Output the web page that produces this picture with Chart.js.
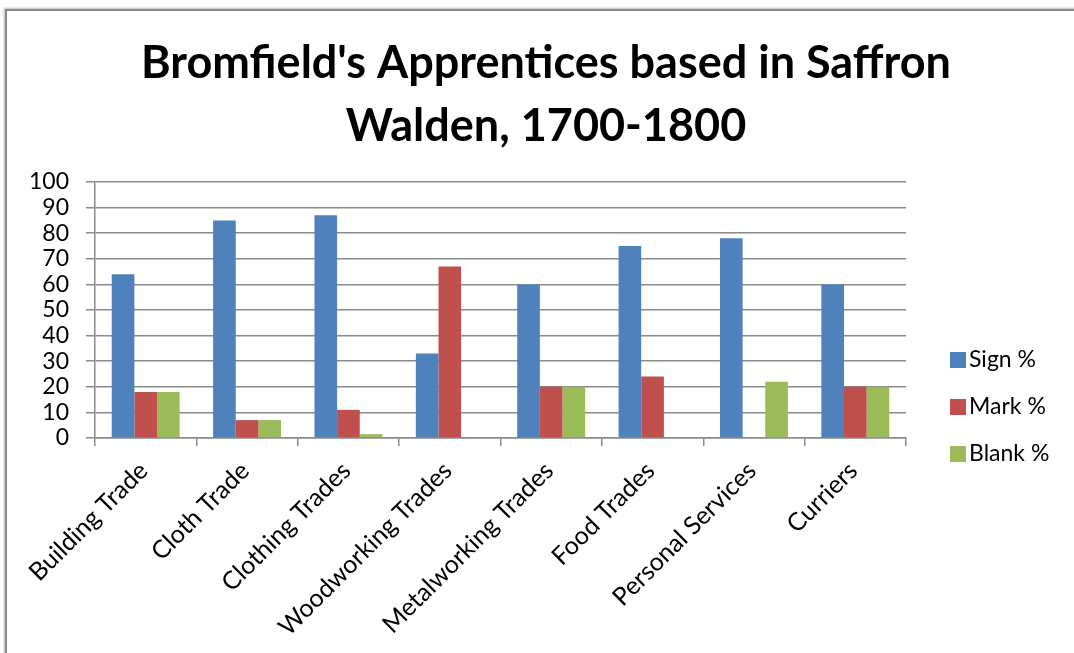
<!DOCTYPE html>
<html>
<head>
<meta charset="utf-8">
<script src="https://cdn.jsdelivr.net/npm/chart.js@4.4.1/dist/chart.umd.min.js"></script>
<style>
  html, body { margin: 0; padding: 0; background: #fff; overflow: hidden; }
  #frame {
    position: absolute; left: 5px; top: 9px; width: 1200px; height: 800px;
    border: 2px solid #8a8a8a; box-shadow: -1px -1px 2px #bbb;
  }
  #wrap { position: absolute; left: 0; top: 0; width: 1074px; height: 653px; }
</style>
</head>
<body>
<div id="frame"></div>
<div id="wrap"><canvas id="chart" width="1074" height="653"></canvas></div>
<script>
// Bromfield's apprentices - share who could sign / made a mark / left it blank
const categories = ['Building Trade', 'Cloth Trade', 'Clothing Trades', 'Woodworking Trades',
                    'Metalworking Trades', 'Food Trades', 'Personal Services', 'Curriers'];
const signPct  = [64, 85, 87, 33, 60, 75, 78, 60];
const markPct  = [18, 7, 11, 67, 20, 24, 0, 20];
const blankPct = [18, 7, 1.5, 0, 20, 0, 22, 20];
const yTicks = [0, 10, 20, 30, 40, 50, 60, 70, 80, 90, 100];

const seriesNames = ['Sign %', 'Mark %', 'Blank %'];
const seriesColors = ['#4F81BD', '#C0504D', '#9BBB59'];

const labelFont = 'Lato, "Open Sans", sans-serif';

// legend drawn by hand so it can sit where Excel put it
const sideLegend = {
    id: 'sideLegend',
    afterDraw(chart) {
        const ctx = chart.ctx;
        const x = chart.chartArea.right + 44;
        let y = chart.chartArea.bottom - 78;
        ctx.save();
        ctx.font = '23px ' + labelFont;
        ctx.textBaseline = 'middle';
        chart.data.datasets.forEach(ds => {
            ctx.fillStyle = ds.backgroundColor;
            ctx.fillRect(x, y - 8, 16, 16);
            ctx.fillStyle = '#000';
            ctx.fillText(ds.label, x + 19, y);
            y += 47;
        });
        ctx.restore();
    }
};

const datasets = [signPct, markPct, blankPct].map((vals, i) => ({
    label: seriesNames[i],
    data: vals,
    backgroundColor: seriesColors[i],
    borderWidth: 0,
    categoryPercentage: 0.67,
    barPercentage: 1.0
}));

new Chart(document.getElementById('chart'), {
    type: 'bar',
    data: { labels: categories, datasets: datasets },
    plugins: [sideLegend],
    options: {
        responsive: false,
        animation: false,
        layout: { padding: { left: 18, right: 0, top: 0, bottom: 0 } },
        plugins: {
            legend: { display: false },
            tooltip: { enabled: false },
            title: {
                display: true,
                text: ["Bromfield's Apprentices based in Saffron", 'Walden, 1700-1800'],
                color: '#000',
                font: { family: labelFont, size: 45, weight: 'bold', lineHeight: 1.4 },
                padding: { top: 32, bottom: 24 }
            }
        },
        scales: {
            x: {
                grid: { display: true, drawOnChartArea: false, drawTicks: true, tickLength: 8, offset: true, color: '#8a8a8a', lineWidth: 1.5 },
                border: { display: true, color: '#8a8a8a', width: 1.5 },
                ticks: {
                    color: '#000',
                    font: { family: labelFont, size: 25 },
                    minRotation: 45, maxRotation: 45,
                    autoSkip: false,
                    labelOffset: -2,
                    padding: 10
                },
                afterFit: s => { s.height = 215; }
            },
            y: {
                min: 0, max: 100,
                afterBuildTicks: s => { s.ticks = yTicks.map(v => ({ value: v })); },
                grid: { color: '#8a8a8a', lineWidth: 1.5, tickLength: 9 },
                border: { display: true, color: '#8a8a8a', width: 1.5 },
                ticks: { color: '#000', font: { family: labelFont, size: 23 }, padding: 17, autoSkip: false },
                afterFit: s => { s.width = 77; }
            },
            side: {
                type: 'linear',
                position: 'right',
                display: true,
                grid: { display: false },
                border: { display: false },
                ticks: { display: false },
                afterFit: s => { s.width = 168; }
            }
        }
    }
});
</script>
</body>
</html>
